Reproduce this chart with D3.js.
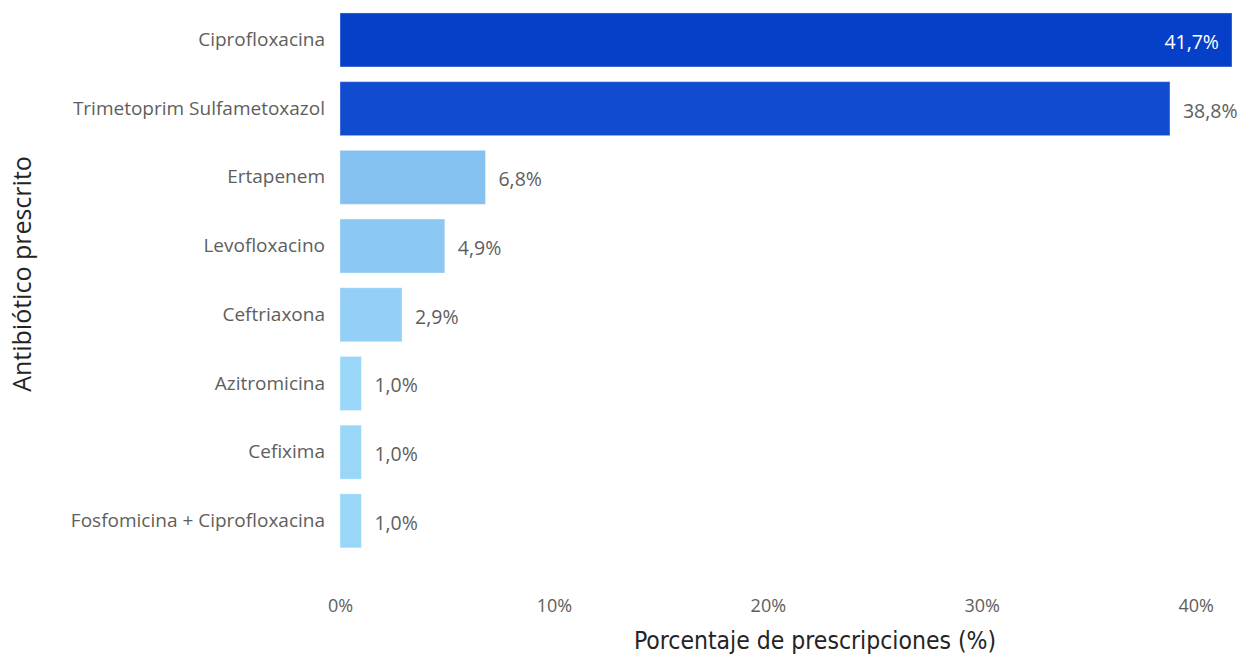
<!DOCTYPE html>
<html>
<head>
<meta charset="utf-8">
<script src="https://cdn.jsdelivr.net/npm/d3@7"></script>
<style>
  body { margin: 0; background: #fff; }
  svg { display: block; }
</style>
</head>
<body>
<svg id="chart" width="1248" height="656"></svg>
<script>
// 数据
const categories = [
    "Ciprofloxacina",
    "Trimetoprim Sulfametoxazol",
    "Ertapenem",
    "Levofloxacino",
    "Ceftriaxona",
    "Azitromicina",
    "Cefixima",
    "Fosfomicina + Ciprofloxacina"
];
const percentages = [41.7, 38.8, 6.8, 4.9, 2.9, 1.0, 1.0, 1.0];
const xTicks = [0, 10, 20, 30, 40];

const svg = d3.select("#chart");
const width = +svg.attr("width");
const height = +svg.attr("height");
const margin = { left: 340, right: 16, top: 5.6, bottom: 100.8 };

const font = "'Open Sans', 'Noto Sans', sans-serif";
const titleFont = "'DejaVu Sans Condensed', 'DejaVu Sans', sans-serif";
const textGrey = "#605E5C";

// 比例尺
const x = d3.scaleLinear()
    .domain([0, 41.7])
    .range([margin.left, margin.left + 892]);

const y = d3.scaleBand()
    .domain(categories)
    .range([margin.top, height - margin.bottom])
    .paddingInner(0.214)
    .paddingOuter(0.107);

const color = d3.scaleLinear()
    .domain([1, 2.9, 4.9, 6.8, 38.8, 41.7])
    .range(["#99D6F8", "#93CFF6", "#8CC8F4", "#84C1F0", "#114BCF", "#0740C8"]);

const data = categories.map((c, i) => ({ name: c, value: percentages[i] }));
const fmt = v => d3.format(".1f")(v).replace(".", ",") + "%";

// 条形
svg.append("g")
    .selectAll("rect")
    .data(data)
    .join("rect")
    .attr("x", x(0))
    .attr("y", d => y(d.name))
    .attr("width", d => x(d.value) - x(0))
    .attr("height", y.bandwidth())
    .attr("fill", d => color(d.value))
    .attr("stroke", "rgba(255,255,255,0.35)")
    .attr("stroke-width", 1);

// 数值标签
svg.append("g")
    .selectAll("text")
    .data(data)
    .join("text")
    .attr("x", (d, i) => i === 0 ? x(d.value) - 13 : x(d.value) + 13)
    .attr("y", d => y(d.name) + y.bandwidth() / 2 + 2)
    .attr("dy", "0.36em")
    .attr("text-anchor", (d, i) => i === 0 ? "end" : "start")
    .attr("font-family", font)
    .attr("font-size", 19.5)
    .attr("fill", (d, i) => i === 0 ? "#ffffff" : textGrey)
    .text(d => fmt(d.value));

// Y 轴
const yAxis = svg.append("g")
    .attr("transform", `translate(${margin.left - 15},0)`)
    .call(d3.axisLeft(y).tickSize(0).tickPadding(0));
yAxis.select(".domain").remove();
yAxis.selectAll("text")
    .attr("font-family", font)
    .attr("font-size", 19)
    .attr("fill", textGrey);

// X 轴
const xAxis = svg.append("g")
    .attr("transform", `translate(0,${height - 57})`)
    .call(d3.axisBottom(x).tickValues(xTicks).tickSize(0).tickPadding(0)
        .tickFormat(d => d + "%"));
xAxis.select(".domain").remove();
xAxis.selectAll("text")
    .attr("font-family", font)
    .attr("font-size", 18)
    .attr("fill", textGrey);

// 轴标题
svg.append("text")
    .attr("x", 815)
    .attr("y", 649)
    .attr("text-anchor", "middle")
    .attr("font-family", titleFont)
    .attr("font-size", 24.5)
    .attr("fill", "#252423")
    .text("Porcentaje de prescripciones (%)");

svg.append("text")
    .attr("transform", "translate(31,274) rotate(-90)")
    .attr("text-anchor", "middle")
    .attr("font-family", font)
    .attr("font-size", 25)
    .attr("fill", "#252423")
    .text("Antibiótico prescrito");
</script>
</body>
</html>
